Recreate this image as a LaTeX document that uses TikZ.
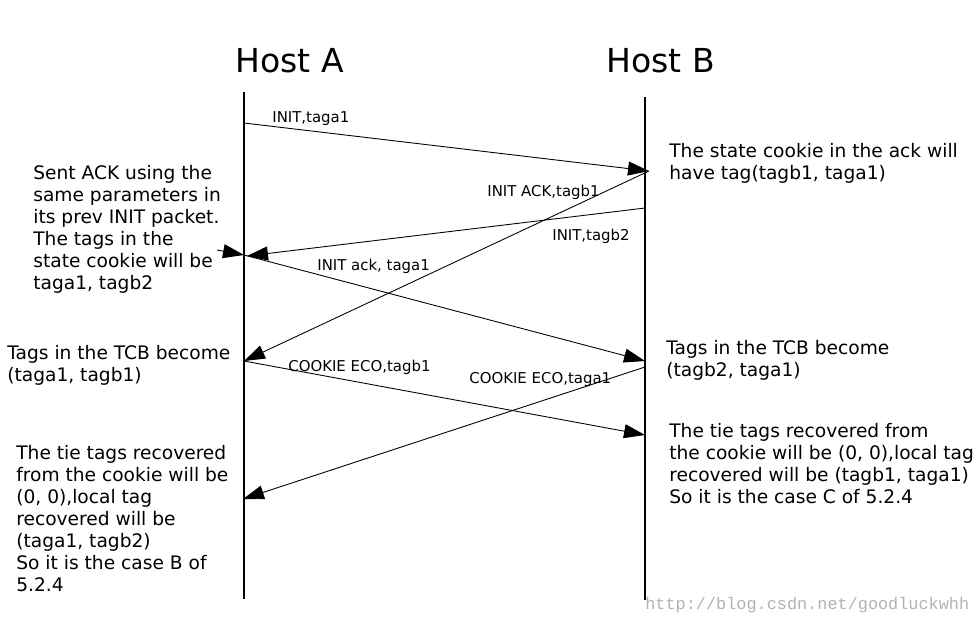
\documentclass[tikz,border=0pt]{standalone}
\usepackage{fontspec}
\setmainfont{DejaVu Sans}
\setmonofont{Liberation Mono}
\usetikzlibrary{arrows.meta,positioning}

\begin{document}
\begin{tikzpicture}[x=0.02cm, y=-0.02cm,
                life/.style={line width=0.6pt, black},
                msg/.style={line width=0.5pt, black,
                -{Triangle[length=0.42cm, width=0.28cm]}},
                host/.style={font=\fontsize{18.8}{22}\selectfont,
                inner sep=0pt, anchor=base west},
                note/.style={font=\fontsize{10.6}{12.5}\selectfont,
                inner sep=0pt, anchor=base west, align=left},
    			% small labels on the messages
                lbl/.style={font=\fontsize{8.5}{10}\selectfont,
                inner sep=0pt, anchor=base west},
                wmark/.style={font=\ttfamily\fontsize{9.6}{11}\selectfont,
                text=black!30, inner sep=0pt, anchor=base west}
    			]
\useasboundingbox (0,0) rectangle (976,623);

%% Hosts and lifelines
\node [host] (hostA) at (235,72) {Host A};
\node [host] (hostB) at (606,72) {Host B};
\coordinate (a top) at (244,92);
\coordinate (a bot) at (244,599);
\coordinate (b top) at (645,97);
\coordinate (b bot) at (645,600);
\draw [life](a top)--(a bot);
\draw [life](b top)--(b bot);

%% Points on the lifelines
\coordinate (a1) at (244,123);
\coordinate (b1) at (649,171);
\coordinate (b2) at (645,208);
\coordinate (a2) at (247,256);
\coordinate (a2s) at (244,255);
\coordinate (a3) at (244,361);
\coordinate (b3) at (645,361);
\coordinate (b4) at (645,367);
\coordinate (b5) at (645,435);
\coordinate (a4) at (243,499);
\coordinate (sent) at (217,250);

%%%% INIT exchange
\draw [msg](a1)--(b1);
\draw [msg](b1)--(a3);
\draw [msg](b2)--(a2);
\draw [msg](a2s)--(b3);
\draw [msg](sent)--(a2s);

%%%% COOKIE ECO exchange
\draw [msg](a3)--(b5);
\draw [msg](b4)--(a4);

%% Message labels
\node [lbl] (l1) at (272,122) {INIT,taga1};
\node [lbl] (l2) at (487,196) {INIT ACK,tagb1};
\node [lbl] (l3) at (552,240) {INIT,tagb2};
\node [lbl] (l4) at (317,270) {INIT ack, taga1};
\node [lbl] (l5) at (288,371) {COOKIE ECO,tagb1};
\node [lbl] (l6) at (469,383) {COOKIE ECO,taga1};

%% Notes (placed by the baseline of their last line)
\node [note] (nsent) at (33,289) {Sent ACK using the\\same parameters in\\its prev INIT packet.\\The tags in the\\state cookie  will be\\taga1, tagb2};
\node [note] (ncookie) at (669,179) {The state cookie in the ack will\\have tag(tagb1, taga1)};
\node [note] (ntcbA) at (7,381) {Tags in the TCB become\\(taga1, tagb1)};
\node [note] (ntcbB) at (666,376) {Tags in the TCB become\\(tagb2, taga1)};
\node [note] (ncaseB) at (16,591) {The tie tags recovered\\from the cookie will be\\(0, 0),local tag\\recovered will be\\(taga1, tagb2)\\So it is the case B of\\5.2.4};
\node [note] (ncaseC) at (669,503) {The tie tags recovered from\\the cookie will be (0, 0),local tag\\recovered will be (tagb1, taga1)\\So it is the case C of 5.2.4};

%% Watermark
\node [wmark] (wm) at (645,609) {http://blog.csdn.net/goodluckwhh};

\end{tikzpicture}
\end{document}
